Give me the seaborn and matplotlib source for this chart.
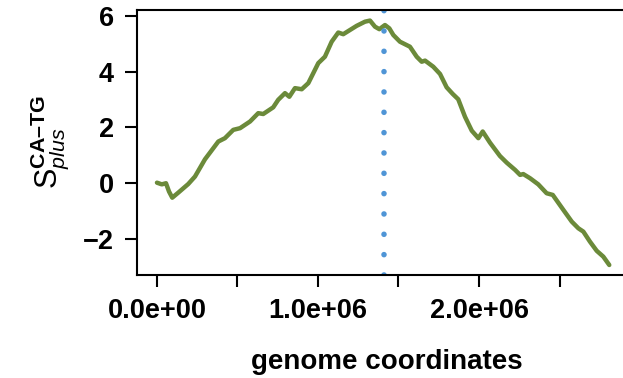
import matplotlib
matplotlib.use("Agg")
import matplotlib.pyplot as plt
import seaborn as sns
import pandas as pd

# genome position (bp) and cumulative skew
position = [0.0, 0.03e6, 0.056e6, 0.075e6, 0.095e6, 0.132e6, 0.194e6, 0.236e6,
            0.298e6, 0.381e6, 0.422e6, 0.474e6, 0.516e6, 0.578e6, 0.629e6, 0.660e6,
            0.722e6, 0.753e6, 0.795e6, 0.822e6, 0.857e6, 0.899e6, 0.940e6, 1.002e6,
            1.043e6, 1.085e6, 1.126e6, 1.157e6, 1.240e6, 1.292e6, 1.323e6, 1.354e6,
            1.381e6, 1.416e6, 1.443e6, 1.468e6, 1.509e6, 1.571e6, 1.613e6, 1.644e6,
            1.665e6, 1.716e6, 1.758e6, 1.799e6, 1.837e6, 1.871e6, 1.913e6, 1.955e6,
            1.996e6, 2.023e6, 2.068e6, 2.130e6, 2.172e6, 2.224e6, 2.255e6, 2.275e6,
            2.317e6, 2.368e6, 2.420e6, 2.458e6, 2.524e6, 2.576e6, 2.617e6, 2.648e6,
            2.689e6, 2.731e6, 2.772e6, 2.809e6]
skew = [0.01, -0.05, -0.01, -0.31, -0.53, -0.35, -0.04, 0.23,
        0.85, 1.49, 1.61, 1.91, 1.97, 2.21, 2.51, 2.48,
        2.72, 2.99, 3.23, 3.10, 3.41, 3.37, 3.59, 4.31,
        4.54, 5.08, 5.41, 5.35, 5.65, 5.80, 5.84, 5.62,
        5.53, 5.68, 5.56, 5.32, 5.08, 4.90, 4.54, 4.36,
        4.40, 4.18, 3.92, 3.44, 3.20, 3.01, 2.38, 1.88,
        1.61, 1.85, 1.45, 0.97, 0.73, 0.47, 0.29, 0.32,
        0.17, -0.05, -0.37, -0.43, -0.97, -1.39, -1.63, -1.75,
        -2.11, -2.44, -2.65, -2.95]
origin_pos = 1.41e6

x_ticks = [0, 0.5e6, 1.0e6, 1.5e6, 2.0e6, 2.5e6]
x_labels = ["0.0e+00", "", "1.0e+06", "", "2.0e+06", ""]
y_ticks = [-2, 0, 2, 4, 6]

sns.set_style("ticks")
plt.rcParams["font.family"] = ["Liberation Sans", "DejaVu Sans"]
plt.rcParams["mathtext.fontset"] = "custom"
plt.rcParams["mathtext.rm"] = "Liberation Sans"
plt.rcParams["mathtext.it"] = "Liberation Sans:italic"
plt.rcParams["mathtext.bf"] = "Liberation Sans:bold"
plt.rcParams["text.color"] = "black"
plt.rcParams["axes.labelcolor"] = "black"
plt.rcParams["xtick.color"] = "black"
plt.rcParams["ytick.color"] = "black"

df = pd.DataFrame({"pos": position, "skew": skew})

fig = plt.figure(figsize=(6.23, 3.78), dpi=100)
ax = fig.add_axes([137 / 623, 103 / 378, 499 / 623, 265 / 378])

sns.lineplot(data=df, x="pos", y="skew", color="#6b8a3a", linewidth=3.2, ax=ax)
ax.axvline(origin_pos, color="#4f95d6", linewidth=4,
           linestyle=(0, (0.01, 3.65)), dash_capstyle="round")

ax.set_xlim(-0.124e6, 2.975e6)
ax.set_ylim(-3.31, 6.22)
ax.set_xticks(x_ticks)
ax.set_xticklabels(x_labels)
ax.set_yticks(y_ticks)

for s in ["top", "left", "bottom"]:
    ax.spines[s].set_linewidth(1.5)
    ax.spines[s].set_color("black")
ax.spines["right"].set_visible(False)

ax.tick_params(axis="both", length=8.5, width=1.5, pad=8, labelsize=19.5)
for lab in ax.get_xticklabels() + ax.get_yticklabels():
    lab.set_fontweight("bold")

ax.set_xlabel("genome coordinates", fontsize=20, fontweight="bold", labelpad=18)
ax.set_ylabel("$\\mathrm{S}_{\\mathit{plus}}^{\\mathbf{CA\u2013TG}}$",
              fontsize=22, labelpad=9)

fig.savefig("out.png", dpi=100)
